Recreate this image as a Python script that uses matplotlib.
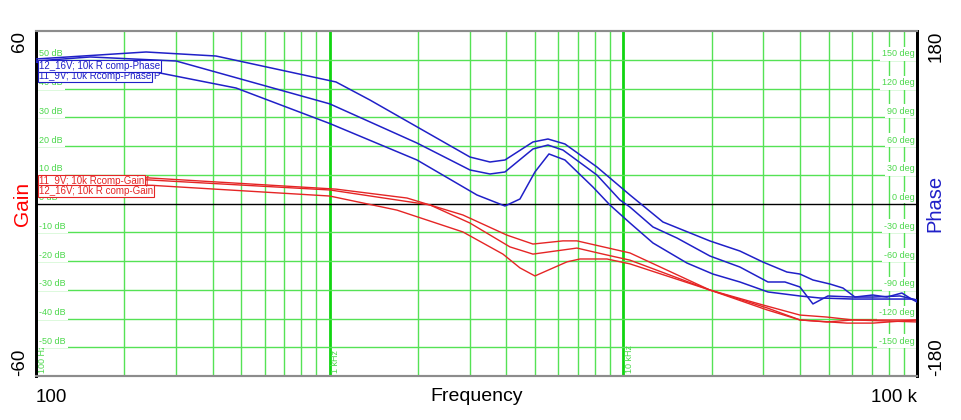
import matplotlib
matplotlib.use('Agg')
import matplotlib.pyplot as plt
from matplotlib.ticker import NullLocator, NullFormatter

plt.rcParams['font.family'] = ['Liberation Sans', 'DejaVu Sans']

# 相位曲线 (Hz, deg)
ph_a_f = [100, 237, 410, 1051, 1371, 1983, 3004, 3514, 3953, 4923, 5538, 6326, 8131, 10531,
          13642, 19720, 24944, 29882, 36060, 39937, 44219, 50520, 55950, 61460, 70760, 78980,
          88840, 94600, 100000]
ph_a_v = [150.8, 158.1, 153.9, 126.8, 108.0, 80.0, 48.5, 43.3, 45.4, 64.2, 67.3, 62.1, 38.1, 8.9,
          -19.3, -39.1, -49.6, -61.1, -71.5, -73.6, -79.8, -84.0, -88.2, -97.6, -95.5, -97.6,
          -93.4, -98.7, -102.8]

ph_b_f = [100, 153, 300, 1000, 1983, 3004, 3514, 3953, 4923, 5538, 6228, 8131, 9737, 10531,
          12615, 15224, 19720, 24944, 31076, 35500, 39937, 44219, 49730, 60500, 70760, 87460, 100000]
ph_b_v = [148.7, 152.9, 148.7, 104.0, 63.1, 35.0, 30.8, 32.9, 56.9, 61.0, 55.8, 29.7, 3.7, -3.7,
          -24.5, -36.0, -54.8, -66.3, -81.9, -81.9, -87.1, -104.8, -96.5, -97.6, -97.6, -96.5, -100.7]

ph_c_f = [100, 160, 256, 480, 1000, 1983, 3173, 3953, 4446, 5000, 5581, 6326, 7879, 9004, 10531,
          12615, 16464, 20184, 24944, 31076, 39937, 46710, 60500, 94600, 100000]
ph_c_v = [147.5, 142.0, 137.0, 120.5, 83.5, 45.4, 8.9, -2.6, 4.7, 32.9, 51.7, 45.4, 17.2, -1.6, -20.3,
          -41.2, -62.1, -73.6, -81.9, -92.3, -96.5, -98.6, -99.7, -99.7, -100.7]

# 增益曲线 (Hz, dB)
g_a_f = [100, 242, 1051, 1834, 2843, 4015, 4923, 6228, 6950, 10531, 19720, 29882, 39937, 49340,
         60500, 100000]
g_a_v = [9.2, 8.9, 5.0, 1.9, -4.0, -11.0, -14.1, -13.0, -13.0, -17.2, -30.1, -35.3, -38.8, -39.5,
         -40.5, -40.5]

g_b_f = [100, 242, 1003, 2196, 3004, 4111, 4923, 6950, 8521, 10531, 19720, 30833, 39937, 57730,
         70760, 100000]
g_b_v = [8.5, 8.2, 4.7, -0.5, -6.8, -15.1, -17.6, -15.5, -17.6, -19.7, -30.1, -36.3, -40.5, -41.6,
         -41.6, -40.5]

g_c_f = [100, 250, 1000, 1695, 2843, 3890, 4446, 5000, 6427, 7116, 8795, 10531, 19720, 30833,
         39937, 49340, 60500, 100000]
g_c_v = [7.0, 6.3, 2.6, -2.3, -9.9, -17.6, -22.4, -25.2, -20.3, -19.3, -19.3, -21.0, -30.1, -37.0,
         -40.5, -41.2, -40.5, -41.2]

gain_levels = [-50, -40, -30, -20, -10, 0, 10, 20, 30, 40, 50]
decades = [100, 1000, 10000]
freq_labels = [(100, '100 Hz'), (1000, '1 kHz'), (10000, '10 kHz')]

RED = '#e52525'
BLUE = '#2020c8'
GRID = '#55e255'
GRID_DEC = '#11d511'
GTXT = '#4cd84c'

fig = plt.figure(figsize=(9.62, 4.2), dpi=100)
ax = fig.add_axes([36 / 962, 44 / 420, 881 / 962, 345 / 420])
ax.set_xscale('log')
ax.set_xlim(100, 1e5)
ax.set_ylim(-60, 60)

# 竖向格子线
for d in decades:
    for k in range(2, 10):
        ax.axvline(k * d, color=GRID, lw=1.0, zorder=1)
ax.axvline(1000, color=GRID_DEC, lw=2.0, zorder=1)
ax.axvline(10000, color=GRID_DEC, lw=2.0, zorder=1)

# 横向格子线
for g in gain_levels:
    if g == 0:
        ax.axhline(0, color='black', lw=1.0, zorder=3)
    else:
        ax.axhline(g, color=GRID, lw=1.0, zorder=1)

ytr = ax.get_yaxis_transform()
for g in gain_levels:
    pad = 0.5 if g == 0 else 1.8
    ax.text(0.003, g + 0.5, f'{g} dB', transform=ytr, ha='left', va='bottom', fontsize=6.5,
            color=GTXT, zorder=2.5,
            bbox=dict(facecolor='white', edgecolor='none', pad=pad))
    ax.text(0.998, g + 0.5, f'{g * 3} deg', transform=ytr, ha='right', va='bottom', fontsize=6.5,
            color=GTXT, zorder=2.5,
            bbox=dict(facecolor='white', edgecolor='none', pad=pad))

xtr = ax.get_xaxis_transform()
for f, s in freq_labels:
    ax.text(f * 1.012, 0.008, s, transform=xtr, rotation=90, ha='left', va='bottom',
            fontsize=6.5, color=GTXT, zorder=2)

# 增益曲线
for fx, vy in [(g_a_f, g_a_v), (g_b_f, g_b_v), (g_c_f, g_c_v)]:
    ax.plot(fx, vy, color=RED, lw=1.0, zorder=4)

ax.set_xticks([100, 1e5])
ax.set_xticklabels(['100', '100 k'], fontsize=13.5)
xl = ax.get_xticklabels()
xl[0].set_ha('left')
xl[1].set_ha('right')
ax.xaxis.set_minor_locator(NullLocator())
ax.xaxis.set_minor_formatter(NullFormatter())
ax.tick_params(axis='x', length=0, pad=9)
ax.set_xlabel('Frequency', fontsize=14)
ax.xaxis.set_label_coords(0.5, -0.036)

ax.set_yticks([-60, 60])
ax.set_yticklabels(['-60', '60'], fontsize=13.5, rotation=90)
yl = ax.get_yticklabels()
yl[0].set_va('bottom')
yl[1].set_va('top')
ax.tick_params(axis='y', length=0, pad=6)
ax.set_ylabel('Gain', color='red', fontsize=15)
ax.yaxis.set_label_coords(-0.005, 0.5)

# 相位轴
ax2 = ax.twinx()
ax2.set_ylim(-180, 180)
for fx, vy in [(ph_a_f, ph_a_v), (ph_b_f, ph_b_v), (ph_c_f, ph_c_v)]:
    ax2.plot(fx, vy, color=BLUE, lw=1.1, zorder=4)
ax2.set_yticks([-180, 180])
ax2.set_yticklabels(['-180', '180'], fontsize=13.5, rotation=90)
yl2 = ax2.get_yticklabels()
yl2[0].set_va('bottom')
yl2[1].set_va('top')
ax2.tick_params(axis='y', length=0, pad=8)
ax2.set_ylabel('Phase', color=BLUE, fontsize=14.5)
ax2.yaxis.set_label_coords(1.01, 0.5)

for a in (ax, ax2):
    a.spines['left'].set_color('black')
    a.spines['left'].set_linewidth(2)
    a.spines['right'].set_color('black')
    a.spines['right'].set_linewidth(2)
    a.spines['top'].set_color('#8c8c8c')
    a.spines['top'].set_linewidth(1.5)
    a.spines['bottom'].set_color('#8c8c8c')
    a.spines['bottom'].set_linewidth(1.5)

# 图例标签
atr = ax2.transAxes
ax2.text(0.003, 0.871, '11_9V; 10k Rcomp-Phase', transform=atr, fontsize=7, color=BLUE,
         ha='left', va='center', zorder=6,
         bbox=dict(facecolor='white', edgecolor=BLUE, lw=0.8, pad=0.8))
ax2.text(0.133, 0.871, 'P', transform=atr, fontsize=7, color=BLUE, ha='left', va='center', zorder=6)
ax2.text(0.003, 0.899, '12_16V; 10k R comp-Phase', transform=atr, fontsize=7, color=BLUE,
         ha='left', va='center', zorder=7,
         bbox=dict(facecolor='white', edgecolor=BLUE, lw=0.8, pad=0.8))
ax2.text(0.003, 0.566, '11_9V; 10k Rcomp-Gain', transform=atr, fontsize=7, color=RED,
         ha='left', va='center', zorder=6,
         bbox=dict(facecolor='white', edgecolor=RED, lw=0.8, pad=0.8))
ax2.text(0.124, 0.566, '[', transform=atr, fontsize=7, color=RED, ha='left', va='center', zorder=6)
ax2.text(0.003, 0.535, '12_16V; 10k R comp-Gain', transform=atr, fontsize=7, color=RED,
         ha='left', va='center', zorder=7,
         bbox=dict(facecolor='white', edgecolor=RED, lw=0.8, pad=0.8))

plt.savefig('out.png', dpi=100)
plt.close()
